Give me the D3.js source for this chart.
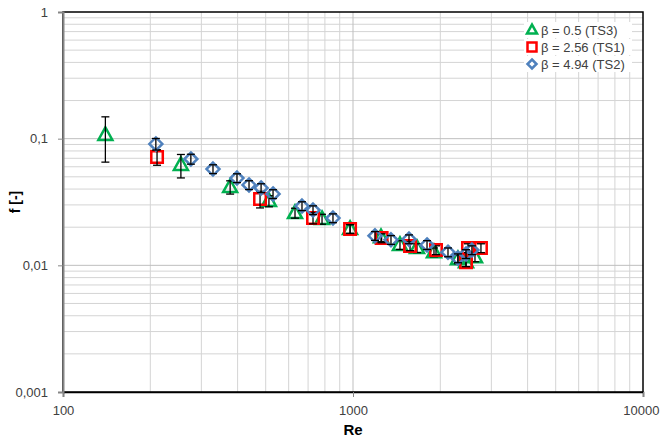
<!DOCTYPE html>
<html>
<head>
<meta charset="utf-8">
<script src="https://cdn.jsdelivr.net/npm/d3@7"></script>
<style>
  body { margin: 0; background: #fff; }
  text { font-family: "Liberation Sans", Arial, sans-serif; }
</style>
</head>
<body>
<div id="chart"></div>
<script>
// Reynolds number and friction factor per test section
const ts3Re = [140, 255, 377, 513, 631, 782, 977, 1249, 1452, 1662, 1902, 2301, 2453, 2634];
const ts3F = [0.107, 0.062, 0.0415, 0.0322, 0.0259, 0.0232, 0.0194, 0.0167, 0.0145, 0.0137, 0.0127, 0.0112, 0.0106, 0.0116];
const ts3Err = [0.39, 0.21, 0.12, 0.1, 0.09, 0.09, 0.08, 0.08, 0.08, 0.08, 0.08, 0.08, 0.08, 0.08];

const ts1Re = [211, 478, 728, 977, 1255, 1573, 1933, 2453, 2492, 2762];
const ts1F = [0.0717, 0.0334, 0.0236, 0.0194, 0.0164, 0.0142, 0.0132, 0.0106, 0.0137, 0.0137];
const ts1Err = [0.14, 0.15, 0.1, 0.08, 0.08, 0.08, 0.08, 0.08, 0.08, 0.08];

const ts2Re = [209, 276, 329, 398, 438, 482, 530, 667, 728, 853, 1191, 1352, 1560, 1800, 2126, 2301, 2453, 2571];
const ts2F = [0.0908, 0.0691, 0.0576, 0.0489, 0.0431, 0.0408, 0.0366, 0.0294, 0.0273, 0.0236, 0.0171, 0.0159, 0.0161, 0.0145, 0.0127, 0.0114, 0.0123, 0.0132];
const ts2Err = [0.105, 0.09, 0.08, 0.08, 0.08, 0.08, 0.08, 0.08, 0.08, 0.08, 0.08, 0.08, 0.08, 0.08, 0.08, 0.08, 0.08, 0.08];

const legendLabels = ["β = 0.5 (TS3)", "β = 2.56 (TS1)", "β = 4.94 (TS2)"];
const xTickLabels = ["100", "1000", "10000"];
const yTickLabels = ["1", "0,1", "0,01", "0,001"];

const width = 660, height = 438;
const plotLeft = 63, plotRight = 643, plotTop = 12, plotBottom = 392;

const svg = d3.select("#chart").append("svg")
  .attr("width", width)
  .attr("height", height);

const x = d3.scaleLog().domain([100, 10000]).range([plotLeft, plotRight]);
const y = d3.scaleLog().domain([0.001, 1]).range([plotBottom, plotTop]);

// Gridlines: minor first, then major
const minorX = [], minorY = [];
for (let d = 100; d < 10000; d *= 10) {
  for (let k = 2; k <= 9; k++) minorX.push(d * k);
}
for (let d = 0.001; d < 1; d *= 10) {
  for (let k = 2; k <= 9; k++) minorY.push(d * k);
}
const grid = svg.append("g");
grid.selectAll(".mx").data(minorX).enter().append("line")
  .attr("x1", d => x(d)).attr("x2", d => x(d))
  .attr("y1", plotTop).attr("y2", plotBottom)
  .attr("stroke", "#d4d4d4").attr("stroke-width", 1);
grid.selectAll(".my").data(minorY).enter().append("line")
  .attr("x1", plotLeft).attr("x2", plotRight)
  .attr("y1", d => y(d)).attr("y2", d => y(d))
  .attr("stroke", "#d4d4d4").attr("stroke-width", 1);
grid.selectAll(".Mx").data([1000]).enter().append("line")
  .attr("x1", d => x(d)).attr("x2", d => x(d))
  .attr("y1", plotTop).attr("y2", plotBottom)
  .attr("stroke", "#bfbfbf").attr("stroke-width", 1);
grid.selectAll(".My").data([0.1, 0.01]).enter().append("line")
  .attr("x1", plotLeft).attr("x2", plotRight)
  .attr("y1", d => y(d)).attr("y2", d => y(d))
  .attr("stroke", "#bfbfbf").attr("stroke-width", 1);

// Plot area border
svg.append("rect")
  .attr("x", plotLeft).attr("y", plotTop)
  .attr("width", plotRight - plotLeft).attr("height", plotBottom - plotTop)
  .attr("fill", "none").attr("stroke", "#000").attr("stroke-width", 1.5);

// Axes
const xAxis = d3.axisBottom(x)
  .tickValues([100, 1000, 10000])
  .tickFormat((d, i) => xTickLabels[i])
  .tickSize(5).tickPadding(9);
const gx = svg.append("g").attr("transform", `translate(0,${plotBottom})`).call(xAxis);
gx.select(".domain").attr("stroke", "#000").attr("stroke-width", 1.5);
gx.selectAll(".tick line").attr("stroke", "#868686");
gx.selectAll("text").attr("font-size", 13).attr("fill", "#404040");
// last label sits against the page edge
gx.selectAll(".tick text").filter(d => d === 10000)
  .attr("text-anchor", "end").attr("x", width - plotRight - 1);

const yAxis = d3.axisLeft(y)
  .tickValues([1, 0.1, 0.01, 0.001])
  .tickFormat((d, i) => yTickLabels[i])
  .tickSize(5).tickPadding(10);
const gy = svg.append("g").attr("transform", `translate(${plotLeft},0)`).call(yAxis);
gy.select(".domain").attr("stroke", "#868686").attr("stroke-width", 2);
gy.selectAll(".tick line").attr("stroke", "#868686");
gy.selectAll("text").attr("font-size", 13).attr("fill", "#404040");

// Axis titles
svg.append("text")
  .attr("x", (plotLeft + plotRight) / 2).attr("y", 435)
  .attr("text-anchor", "middle")
  .attr("font-size", 15).attr("font-weight", "bold")
  .text("Re");
svg.append("text")
  .attr("transform", `translate(20,${(plotTop + plotBottom) / 2}) rotate(-90)`)
  .attr("text-anchor", "middle")
  .attr("font-size", 14).attr("font-weight", "bold")
  .text("f [-]");

// Marker shapes
function triPath(s) {
  const h = s * 0.9;
  return `M 0 ${-h * 0.6} L ${s / 2} ${h * 0.4} L ${-s / 2} ${h * 0.4} Z`;
}
function sqPath(s) {
  return `M ${-s / 2} ${-s / 2} H ${s / 2} V ${s / 2} H ${-s / 2} Z`;
}
function diaPath(s) {
  return `M 0 ${-s / 2} L ${s / 2} 0 L 0 ${s / 2} L ${-s / 2} 0 Z`;
}

const series = [
  { re: ts3Re, f: ts3F, err: ts3Err, color: "#00b050", shape: triPath, size: 14 },
  { re: ts1Re, f: ts1F, err: ts1Err, color: "#ff0000", shape: sqPath, size: 11.5 },
  { re: ts2Re, f: ts2F, err: ts2Err, color: "#4f81bd", shape: diaPath, size: 13 }
];

const marks = svg.append("g");
series.forEach(s => {
  const pts = s.re.map((r, i) => ({ re: r, f: s.f[i], e: s.f[i] * s.err[i] }));
  const g = marks.append("g");
  g.selectAll("path.m").data(pts).enter().append("path")
    .attr("transform", d => `translate(${x(d.re)},${y(d.f)})`)
    .attr("d", s.shape(s.size))
    .attr("fill", "none")
    .attr("stroke", s.color)
    .attr("stroke-width", 2.5);
  const eb = g.selectAll("g.eb").data(pts).enter().append("g")
    .attr("stroke", "#000").attr("stroke-width", 1.3);
  eb.append("line")
    .attr("x1", d => x(d.re)).attr("x2", d => x(d.re))
    .attr("y1", d => y(d.f + d.e)).attr("y2", d => y(d.f - d.e));
  eb.append("line")
    .attr("x1", d => x(d.re) - 4).attr("x2", d => x(d.re) + 4)
    .attr("y1", d => y(d.f + d.e)).attr("y2", d => y(d.f + d.e));
  eb.append("line")
    .attr("x1", d => x(d.re) - 4).attr("x2", d => x(d.re) + 4)
    .attr("y1", d => y(d.f - d.e)).attr("y2", d => y(d.f - d.e));
});

// Legend
const legend = svg.append("g");
legendLabels.forEach((label, i) => {
  const ly = 30 + i * 17;
  legend.append("rect")
    .attr("x", 524).attr("y", ly - 8).attr("width", 108).attr("height", 16)
    .attr("fill", "#fff");
  legend.append("path")
    .attr("transform", `translate(532,${ly})`)
    .attr("d", series[i].shape(i === 0 ? 10 : 9))
    .attr("fill", "none")
    .attr("stroke", series[i].color)
    .attr("stroke-width", 2.5);
  legend.append("text")
    .attr("x", 541).attr("y", ly)
    .attr("dominant-baseline", "central")
    .attr("font-size", 13).attr("fill", "#404040")
    .text(label);
});
</script>
</body>
</html>
